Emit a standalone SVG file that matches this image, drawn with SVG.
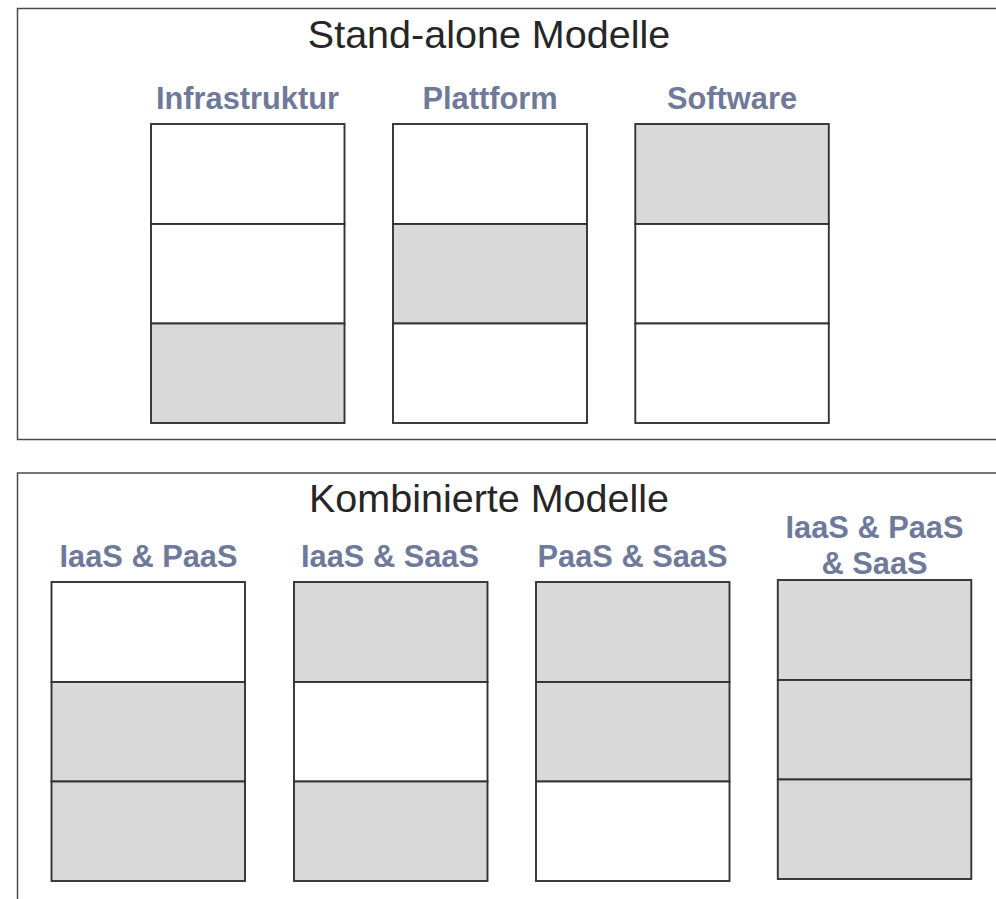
<svg xmlns="http://www.w3.org/2000/svg" width="996" height="899" viewBox="0 0 996 899">
  <style>
    .frame { fill: none; stroke: #4a4a4a; stroke-width: 1.5; }
    .cell { stroke: #333333; stroke-width: 1.9; }
    .on { fill: #d9d9d9; }
    .off { fill: #ffffff; }
    .title { font-family: "Liberation Sans", Arial, sans-serif; font-size: 39.5px; fill: #262626; text-anchor: middle; }
    .label { font-family: "Liberation Sans", Arial, sans-serif; font-size: 30.8px; font-weight: bold; fill: #6f7a9b; text-anchor: middle; }
  </style>
  <rect width="996" height="899" fill="#ffffff"/>

  <!-- Stand-alone section -->
  <g id="standalone">
    <rect class="frame" x="17.5" y="8.5" width="990" height="431"/>
    <text class="title" x="489" y="47.5">Stand-alone Modelle</text>
  </g>

  <g id="infrastruktur">
    <text class="label" x="247.5" y="108.5">Infrastruktur</text>
    <rect class="cell off" x="151" y="124" width="193.5" height="100"/>
    <rect class="cell off" x="151" y="224" width="193.5" height="99.5"/>
    <rect class="cell on" x="151" y="323.5" width="193.5" height="99.5"/>
  </g>

  <g id="plattform">
    <text class="label" x="490" y="108.5">Plattform</text>
    <rect class="cell off" x="393" y="124" width="194" height="100"/>
    <rect class="cell on" x="393" y="224" width="194" height="99.5"/>
    <rect class="cell off" x="393" y="323.5" width="194" height="99.5"/>
  </g>

  <g id="software">
    <text class="label" x="732" y="108.5">Software</text>
    <rect class="cell on" x="635.3" y="124" width="193.5" height="100"/>
    <rect class="cell off" x="635.3" y="224" width="193.5" height="99.5"/>
    <rect class="cell off" x="635.3" y="323.5" width="193.5" height="99.5"/>
  </g>

  <!-- Combined section -->
  <g id="kombiniert">
    <rect class="frame" x="17.5" y="473" width="990" height="440"/>
    <text class="title" x="489" y="511.5">Kombinierte Modelle</text>
  </g>

  <g id="iaas-paas">
    <text class="label" x="148.5" y="566.5">IaaS &amp; PaaS</text>
    <rect class="cell off" x="51.5" y="582" width="193.5" height="100"/>
    <rect class="cell on" x="51.5" y="682" width="193.5" height="99.5"/>
    <rect class="cell on" x="51.5" y="781.5" width="193.5" height="99.5"/>
  </g>

  <g id="iaas-saas">
    <text class="label" x="390" y="566.5">IaaS &amp; SaaS</text>
    <rect class="cell on" x="294" y="582" width="193.5" height="100"/>
    <rect class="cell off" x="294" y="682" width="193.5" height="99.5"/>
    <rect class="cell on" x="294" y="781.5" width="193.5" height="99.5"/>
  </g>

  <g id="paas-saas">
    <text class="label" x="632.5" y="566.5">PaaS &amp; SaaS</text>
    <rect class="cell on" x="536" y="582" width="193.5" height="100"/>
    <rect class="cell on" x="536" y="682" width="193.5" height="99.5"/>
    <rect class="cell off" x="536" y="781.5" width="193.5" height="99.5"/>
  </g>

  <g id="iaas-paas-saas">
    <text class="label" x="874.5" y="538">IaaS &amp; PaaS</text>
    <text class="label" x="874.5" y="574">&amp; SaaS</text>
    <rect class="cell on" x="777.8" y="580" width="193.5" height="100"/>
    <rect class="cell on" x="777.8" y="680" width="193.5" height="99.5"/>
    <rect class="cell on" x="777.8" y="779.5" width="193.5" height="99.5"/>
  </g>
</svg>
